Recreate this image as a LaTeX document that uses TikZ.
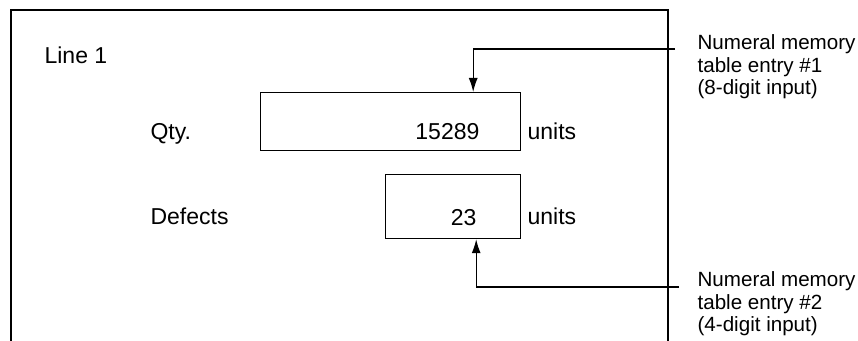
\documentclass[tikz,border=0pt]{standalone}
\usepackage{fontspec}
\setmainfont{Liberation Sans}
\usetikzlibrary{arrows.meta,positioning,calc}

\begin{document}
\begin{tikzpicture}[x=0.5pt,y=-0.5pt,line width=0.6pt,
  txt/.style={font=\fontsize{11.5}{13}\selectfont,inner sep=0pt},
  valbox/.style={draw,inner sep=0pt,anchor=north west},
  note/.style={font=\fontsize{10.3}{11.25}\selectfont,inner sep=0pt,align=left,anchor=north west},
  lead/.style={-{Latex[length=7pt,width=4.5pt]}}]
  \useasboundingbox (0,0) rectangle (858,341);
  % panel, open at the bottom
  \draw (11,341) -- (11,10) -- (668,10) -- (668,341);
  \node[txt,anchor=base west] (line) at (44,64) {Line 1};
  % display fields
  \node[valbox,minimum width=130pt,minimum height=29pt] (qty) at (260,92) {};
  \node[valbox,minimum width=67.5pt,minimum height=32pt] (def) at (385,174) {};
  \node[txt,anchor=base west] (qtylbl) at (150,140) {Qty.};
  \node[txt,anchor=base east] (qtyval) at (480,140) {15289};
  \node[txt,anchor=base west] (qtyunit) at (527,140) {units};
  \node[txt,anchor=base west] (deflbl) at (150,225) {Defects};
  \node[txt,anchor=base east] (defval) at (477,226) {23};
  \node[txt,anchor=base west] (defunit) at (527,225) {units};
  % notes
  \node[note] (note1) at (697,34) {Numeral memory\\table entry \#1\\(8-digit input)};
  \node[note] (note2) at (697,271) {Numeral memory\\table entry \#2\\(4-digit input)};
  \coordinate (n1) at (675,49);
  \coordinate (n2) at (679,287);
  \draw[lead] (n1) -| ($(qty.north east)+(-48,0)$);
  \draw[lead] (n2) -| ($(def.south east)+(-45,0)$);
\end{tikzpicture}
\end{document}
